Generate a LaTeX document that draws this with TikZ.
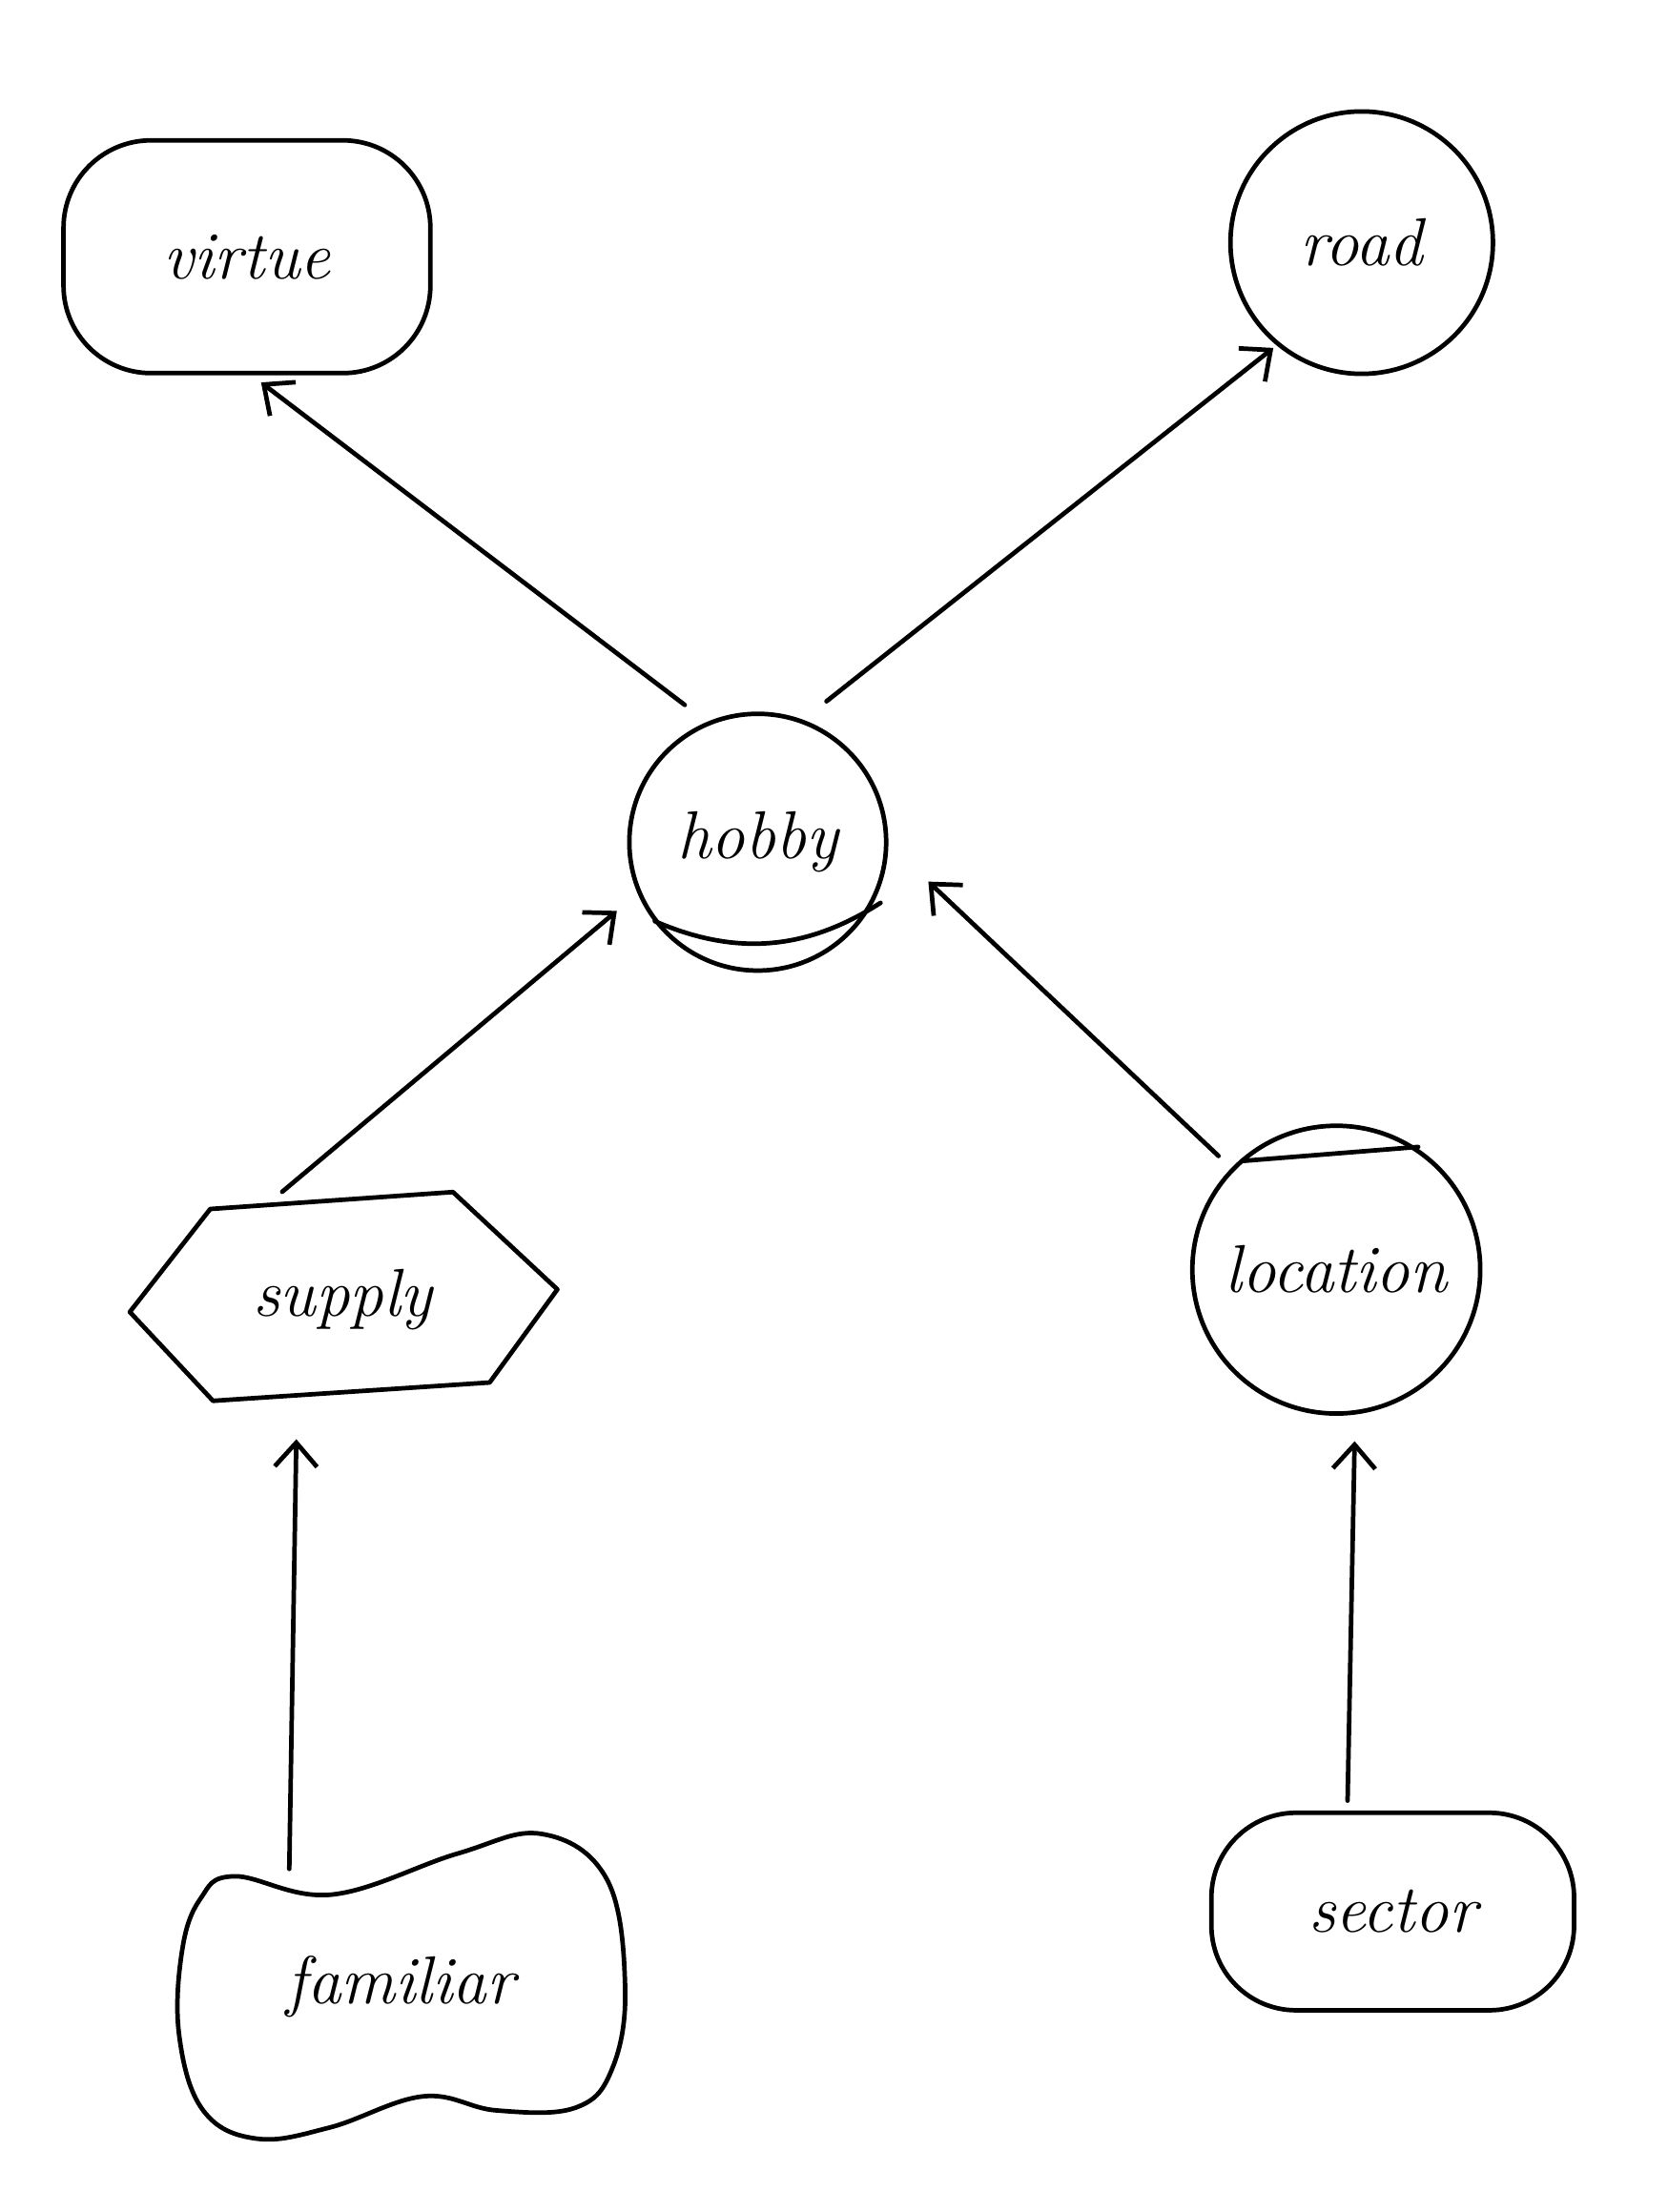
\documentclass[tikz,border=0pt]{standalone}
\usetikzlibrary{arrows.meta,calc,shapes.geometric}
\tikzset{
  ink/.style={line width=3.2pt, line cap=round, line join=round},
  lbl/.style={font=\fontsize{48}{52}\selectfont\itshape},
  circnode/.style={ink, draw, circle, lbl, inner sep=0pt},
  roundbox/.style={ink, draw, rectangle, lbl, rounded corners=62pt},
  plainnode/.style={lbl, inner sep=0pt},
  arr/.style={ink, -{Straight Barb[length=17pt,width=30pt,line width=3.2pt]}},
}
\begin{document}
\begin{tikzpicture}[x=1pt,y=-1pt]
\useasboundingbox[fill=white] (0,0) rectangle (1182,1568);

% nodes
\node[roundbox, minimum width=260pt, minimum height=165pt] (virtue) at (175,182) {virtue};
\node[circnode, minimum size=186pt] (road) at (965,172) {road};
\node[circnode, minimum size=182pt] (hobby) at (537,597) {hobby};
\node[plainnode, minimum width=300pt, minimum height=148pt] (supply) at (243,921) {supply};
\node[circnode, minimum size=204pt] (location) at (947,900) {location};
\node[plainnode, minimum width=316pt, minimum height=216pt] (familiar) at (284,1408) {familiar};
\node[roundbox, minimum width=257pt, minimum height=140pt, rounded corners=60pt] (sector) at (987,1355) {sector};

% supply hexagon
\draw[ink] ($(supply.center)+(-151,9)$) -- ($(supply.center)+(-94,-64)$) -- ($(supply.center)+(78,-76)$)
  -- ($(supply.center)+(152,-7)$) -- ($(supply.center)+(104,59)$) -- ($(supply.center)+(-92,72)$) -- cycle;

% familiar blob
\draw[ink] plot[smooth cycle, tension=0.65] coordinates {
  ($(familiar.center)+(-118,-78)$) ($(familiar.center)+(-49,-65)$) ($(familiar.center)+(40,-94)$)
  ($(familiar.center)+(100,-108)$) ($(familiar.center)+(146,-76)$) ($(familiar.center)+(159,0)$)
  ($(familiar.center)+(150,58)$) ($(familiar.center)+(124,86)$) ($(familiar.center)+(68,88)$)
  ($(familiar.center)+(16,78)$) ($(familiar.center)+(-50,100)$) ($(familiar.center)+(-102,108)$)
  ($(familiar.center)+(-140,88)$) ($(familiar.center)+(-157,35)$) ($(familiar.center)+(-155,-25)$)
  ($(familiar.center)+(-142,-62)$)};

% sketch strokes
\draw[ink] ($(hobby.center)+(-73,56)$) to[bend right=28] ($(hobby.center)+(87,43)$);
\draw[ink] ($(location.center)+(-67,-77)$) -- ($(location.center)+(58,-87)$);

% connectors
\draw[arr] ($(hobby.center)!1.19!(hobby.118)$) -- ($(virtue.south)+(10,5)$);
\draw[arr] ($(hobby.center)!1.2!(hobby.64)$) -- ($(road.center)!1.03!(road.230)$);
\draw[arr] ($(supply.north)+(-43,-2)$) -- ($(hobby.center)!1.2!(hobby.206)$);
\draw[arr] ($(location.center)!1.12!(location.136)$) -- ($(hobby.center)!1.34!(hobby.347)$);
\draw[arr] ($(familiar.north)+(-79,25)$) -- ($(supply.south)+(-33,25)$);
\draw[arr] ($(sector.north)+(-32,-7)$) -- ($(location.south)+(13,18)$);
\end{tikzpicture}
\end{document}
